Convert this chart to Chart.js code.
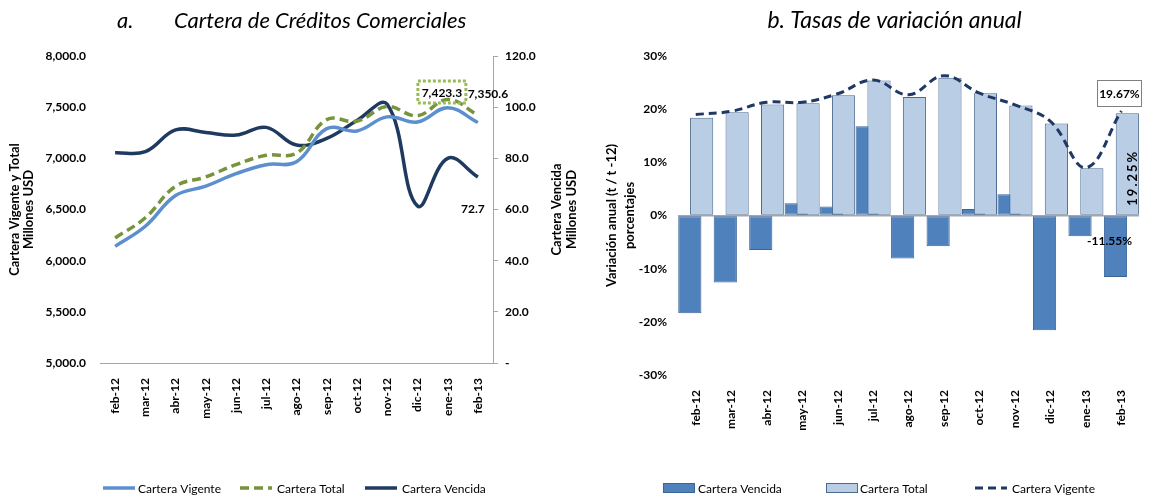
<!DOCTYPE html>
<html>
<head>
<meta charset="utf-8">
<script src="https://cdn.jsdelivr.net/npm/chart.js"></script>
<style>
  html, body { margin: 0; padding: 0; background: #ffffff; width: 1151px; height: 498px; overflow: hidden; }
  #chartA { position: absolute; left: 0; top: 0; }
  #chartB { position: absolute; left: 590px; top: 0; }
</style>
</head>
<body>
<canvas id="chartA" width="590" height="498" style="width:590px;height:498px"></canvas>
<canvas id="chartB" width="561" height="498" style="width:561px;height:498px"></canvas>
<script>
// ---------- DATA ----------
const months = ['feb-12','mar-12','abr-12','may-12','jun-12','jul-12','ago-12','sep-12','oct-12','nov-12','dic-12','ene-13','feb-13'];

// a. Cartera de Créditos Comerciales (millones USD)
const carteraVigente = [6140, 6336, 6636, 6728, 6850, 6938, 6966, 7290, 7268, 7405, 7355, 7495, 7350.6];
const carteraTotal   = [6222, 6419, 6727, 6818, 6939, 7030, 7050, 7378, 7363, 7506, 7416, 7575, 7423.3];
const carteraVencida = [82.2, 82.6, 91.1, 90.1, 89.1, 92.1, 85.2, 87.8, 94.8, 101.1, 61.4, 80.0, 72.7];

// b. Tasas de variación anual (%)
const varVencida = [-18.4, -12.6, -6.5, 2.3, 1.7, 16.8, -8.1, -5.8, 1.2, 4.0, -21.6, -3.9, -11.55];
const varTotal   = [18.4, 19.4, 20.9, 21.1, 22.6, 25.4, 22.3, 25.9, 23.0, 20.7, 17.3, 8.9, 19.25];
const varVigente = [19.0, 19.6, 21.3, 21.3, 22.9, 25.5, 22.7, 26.3, 23.0, 20.8, 17.7, 9.0, 19.67];

// ---------- STYLE ----------
Chart.defaults.font.family = 'Lato, "Open Sans", sans-serif';
Chart.defaults.color = '#000000';
const AXIS_GRAY = '#A6A6A6';
const C_VIGENTE = '#5B8FD0';
const C_TOTAL_LINE = '#77933C';
const C_VENCIDA_LINE = '#1F3A60';
const C_BAR_VENC = '#4F81BD';
const C_BAR_VENC_BORDER = '#3A6598';
const C_BAR_TOTAL = '#B9CDE5';
const C_BAR_TOTAL_BORDER = '#4D6A8E';
const C_DASH_LINE = '#1F3864';

function fmt1(v) {
  return v.toLocaleString('en-US', { minimumFractionDigits: 1, maximumFractionDigits: 1 });
}

function drawLegend(ctx, items, y) {
  ctx.save();
  ctx.font = '12px Lato, "Open Sans", sans-serif';
  ctx.textBaseline = 'middle';
  ctx.textAlign = 'left';
  items.forEach(it => {
    const ds = it.ds;
    if (it.kind === 'line') {
      ctx.beginPath();
      ctx.setLineDash(ds.borderDash || []);
      ctx.strokeStyle = ds.borderColor;
      ctx.lineWidth = ds.borderWidth;
      ctx.moveTo(it.x, y);
      ctx.lineTo(it.x + it.w, y);
      ctx.stroke();
      ctx.setLineDash([]);
    } else {
      ctx.fillStyle = ds.backgroundColor;
      ctx.fillRect(it.x, y - 5, it.w, 10);
      ctx.strokeStyle = ds.borderColor;
      ctx.lineWidth = 1;
      ctx.strokeRect(it.x + 0.5, y - 4.5, it.w - 1, 9);
    }
    ctx.fillStyle = '#000';
    ctx.fillText(ds.label, it.tx, y + 1);
  });
  ctx.restore();
}

// ---------- CHART A ----------
const plugA = {
  id: 'plugA',
  afterDraw(chart) {
    const ctx = chart.ctx;
    const ca = chart.chartArea;
    const ds = chart.data.datasets;
    ctx.save();
    ctx.font = 'italic 22px Lato, "Open Sans", sans-serif';
    ctx.fillStyle = '#000';
    ctx.textBaseline = 'middle';
    ctx.textAlign = 'left';
    ctx.fillText('a.', ca.left + 17, 21);
    ctx.fillText('Cartera de Créditos Comerciales', ca.left + 74, 21);

    // right axis title (reads bottom to top)
    ctx.font = 'bold 13px Lato, "Open Sans", sans-serif';
    ctx.textAlign = 'center';
    const midY = (ca.top + ca.bottom) / 2;
    [['Cartera Vencida', 557], ['Millones USD', 572]].forEach(([t, x]) => {
      ctx.save();
      ctx.translate(x, midY);
      ctx.rotate(-Math.PI / 2);
      ctx.fillText(t, 0, 0);
      ctx.restore();
    });

    // data labels at feb-13
    ctx.font = 'bold 12px Lato, "Open Sans", sans-serif';
    const last = months.length - 1;
    const pTot = chart.getDatasetMeta(1).data[last];
    const pVig = chart.getDatasetMeta(0).data[last];
    const pVen = chart.getDatasetMeta(2).data[last];
    const bx = pTot.x - 36, by = pTot.y - 23;
    ctx.setLineDash([3, 2]);
    ctx.strokeStyle = '#9BBB59';
    ctx.lineWidth = 3;
    ctx.strokeRect(bx - 24, by - 11, 48, 22);
    ctx.setLineDash([]);
    ctx.fillStyle = '#000';
    ctx.fillText(fmt1(carteraTotal[last]), bx, by + 1);
    ctx.fillText(fmt1(carteraVigente[last]), pVig.x + 10, pVig.y - 28);
    ctx.fillText(fmt1(carteraVencida[last]), pVen.x - 5, pVen.y + 32);

    drawLegend(ctx, [
      { ds: ds[0], kind: 'line', x: 103, w: 32, tx: 138 },
      { ds: ds[1], kind: 'line', x: 240, w: 32, tx: 277 },
      { ds: ds[2], kind: 'line', x: 365, w: 32, tx: 402 },
    ], 488);
    ctx.restore();
  }
};

new Chart(document.getElementById('chartA'), {
  type: 'line',
  data: {
    labels: months,
    datasets: [
      { label: 'Cartera Vigente', data: carteraVigente, yAxisID: 'y', borderColor: C_VIGENTE, backgroundColor: C_VIGENTE,
        borderWidth: 3.5, tension: 0.4, pointRadius: 0, fill: false },
      { label: 'Cartera Total', data: carteraTotal, yAxisID: 'y', borderColor: C_TOTAL_LINE, backgroundColor: C_TOTAL_LINE,
        borderWidth: 3.5, borderDash: [9, 5], tension: 0.4, pointRadius: 0, fill: false },
      { label: 'Cartera Vencida', data: carteraVencida, yAxisID: 'y2', borderColor: C_VENCIDA_LINE, backgroundColor: C_VENCIDA_LINE,
        borderWidth: 3.5, tension: 0.4, pointRadius: 0, fill: false },
    ]
  },
  options: {
    responsive: false,
    animation: false,
    layout: { padding: { top: 56, bottom: 75, left: 0, right: 0 } },
    plugins: { legend: { display: false }, tooltip: { enabled: false }, title: { display: false } },
    scales: {
      x: {
        offset: true,
        grid: { display: false, drawTicks: false },
        border: { display: true, color: AXIS_GRAY, width: 1 },
        ticks: { autoSkip: false, minRotation: 90, maxRotation: 90, padding: 15, font: { size: 12, weight: 'bold' } },
        afterFit(s) { s.height = 60; }
      },
      y: {
        position: 'left', min: 5000, max: 8000,
        grid: { display: false, drawTicks: false },
        border: { display: false },
        ticks: { stepSize: 500, padding: 14, font: { size: 12, weight: 'bold' }, callback: v => fmt1(v) },
        title: { display: true, text: ['Cartera Vigente y Total', 'Millones USD'],
                 font: { size: 13, weight: 'bold', lineHeight: 1.05 }, padding: { top: 8, bottom: 0 } },
        afterFit(s) { s.width = 100; }
      },
      y2: {
        position: 'right', min: 0, max: 120,
        grid: { drawOnChartArea: false, drawTicks: true, tickLength: 5, color: AXIS_GRAY },
        border: { display: true, color: AXIS_GRAY, width: 1 },
        ticks: { stepSize: 20, padding: 7, font: { size: 12, weight: 'bold' }, callback: v => v === 0 ? '-' : fmt1(v) },
        afterFit(s) { s.width = 97; }
      }
    }
  },
  plugins: [plugA]
});

// ---------- CHART B ----------
// Overlapping bars: bar width wider than its slot (barPercentage > 1).
const barGeom = { categoryPercentage: 0.667, barPercentage: 1.96, borderSkipped: false };

const plugB = {
  id: 'plugB',
  afterDraw(chart) {
    const ctx = chart.ctx;
    const ca = chart.chartArea;
    const ds = chart.data.datasets;
    ctx.save();
    ctx.font = 'italic 23px Lato, "Open Sans", sans-serif';
    ctx.fillStyle = '#000';
    ctx.textBaseline = 'middle';
    ctx.textAlign = 'center';
    ctx.fillText('b. Tasas de variación anual', (ca.left + ca.right) / 2 - 14, 21);

    const last = months.length - 1;
    const pLine = chart.getDatasetMeta(0).data[last];
    const bTot = chart.getDatasetMeta(2).data[last];
    const bVen = chart.getDatasetMeta(3).data[last];

    ctx.font = 'bold 12px Lato, "Open Sans", sans-serif';
    const lx = pLine.x - 2, ly = pLine.y - 18;
    ctx.setLineDash([1, 1]);
    ctx.strokeStyle = '#000';
    ctx.lineWidth = 1;
    ctx.strokeRect(Math.round(lx - 22) + 0.5, Math.round(ly - 13) + 0.5, 44, 26);
    ctx.setLineDash([]);
    ctx.fillText(varVigente[last].toFixed(2) + '%', lx, ly + 1);

    ctx.save();
    ctx.translate(bTot.x + 5, bTot.base - 37);
    ctx.rotate(-Math.PI / 2);
    if ('letterSpacing' in ctx) ctx.letterSpacing = '2px';
    ctx.font = 'bold 13px Lato, "Open Sans", sans-serif';
    ctx.fillText(varTotal[last].toFixed(2) + '%', 0, 0);
    ctx.restore();

    ctx.fillText(varVencida[last].toFixed(2) + '%', bVen.x - 6, bVen.base + 25);

    drawLegend(ctx, [
      { ds: ds[3], kind: 'rect', x: 73, w: 32, tx: 108 },
      { ds: ds[2], kind: 'rect', x: 236, w: 32, tx: 270 },
      { ds: ds[0], kind: 'line', x: 385, w: 32, tx: 422 },
    ], 488);
    ctx.restore();
  }
};

new Chart(document.getElementById('chartB'), {
  type: 'bar',
  data: {
    labels: months,
    datasets: [
      { type: 'line', label: 'Cartera Vigente', data: varVigente, order: 0,
        borderColor: C_DASH_LINE, backgroundColor: C_DASH_LINE, borderWidth: 3, borderDash: [8, 5],
        tension: 0.4, pointRadius: 0, fill: false },
      // empty placeholder: makes stack 'A' the first (left) slot
      Object.assign({ type: 'bar', label: '', data: [], stack: 'A', order: 1 }, barGeom),
      Object.assign({ type: 'bar', label: 'Cartera Total', data: varTotal, stack: 'B', order: 2,
        backgroundColor: C_BAR_TOTAL, borderColor: C_BAR_TOTAL_BORDER, borderWidth: 1 }, barGeom),
      Object.assign({ type: 'bar', label: 'Cartera Vencida', data: varVencida, stack: 'A', order: 3,
        backgroundColor: C_BAR_VENC, borderColor: C_BAR_VENC_BORDER, borderWidth: 1 }, barGeom),
    ]
  },
  options: {
    responsive: false,
    animation: false,
    layout: { padding: { top: 56, bottom: 63, left: 0, right: 5 } },
    plugins: { legend: { display: false }, tooltip: { enabled: false }, title: { display: false } },
    scales: {
      x: {
        type: 'category', offset: true,
        grid: { display: false, drawTicks: false, offset: true },
        border: { display: false },
        ticks: { autoSkip: false, minRotation: 90, maxRotation: 90, padding: 15, font: { size: 12, weight: 'bold' } },
        afterFit(s) { s.height = 60; }
      },
      y: {
        position: 'left', min: -30, max: 30,
        grid: { drawTicks: false, lineWidth: 1.5,
                color: c => (c.tick && c.tick.value === 0) ? AXIS_GRAY : 'rgba(0,0,0,0)' },
        border: { display: false },
        ticks: { stepSize: 10, padding: 11, font: { size: 12, weight: 'bold' }, callback: v => v + '%' },
        title: { display: true, text: ['Variación anual (t / t -12)', 'porcentajes'],
                 font: { size: 13, weight: 'bold', lineHeight: 1.4 }, padding: { top: 13, bottom: 0 } },
        afterFit(s) { s.width = 88; }
      }
    }
  },
  plugins: [plugB]
});
</script>
</body>
</html>
